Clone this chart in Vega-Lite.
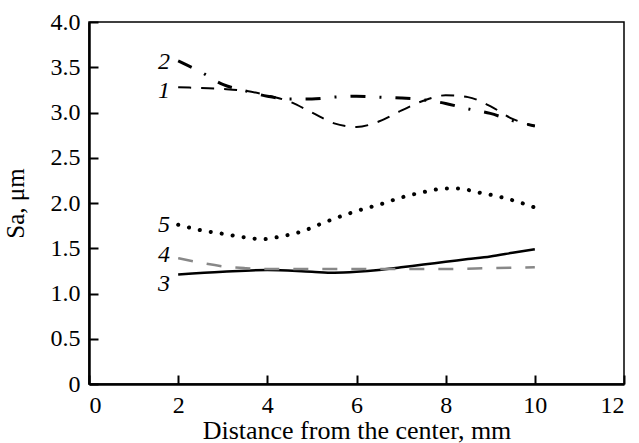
{
  "$schema": "https://vega.github.io/schema/vega-lite/v6.json",
  "width": 535,
  "height": 362,
  "autosize": {"type": "none"},
  "padding": {"left": 89, "top": 22, "right": 15, "bottom": 59},
  "background": "white",
  "config": {
    "view": {"stroke": "black", "strokeWidth": 1.5},
    "font": "Liberation Serif",
    "axis": {
      "labelFont": "Liberation Serif",
      "titleFont": "Liberation Serif",
      "labelFontSize": 24,
      "titleFontSize": 26,
      "labelColor": "black",
      "titleColor": "black",
      "titleFontWeight": "normal",
      "domainColor": "black",
      "domainWidth": 2.5,
      "tickColor": "black",
      "tickWidth": 2,
      "tickSize": -9,
      "labelPadding": 18,
      "grid": false
    }
  },
  "datasets": {
    "curves": [
      {"x": 2, "y": 3.28, "s": "1"}, {"x": 2.5, "y": 3.27, "s": "1"}, {"x": 3, "y": 3.26, "s": "1"}, {"x": 3.5, "y": 3.24, "s": "1"}, {"x": 4, "y": 3.19, "s": "1"}, {"x": 4.5, "y": 3.12, "s": "1"}, {"x": 5, "y": 3.0, "s": "1"}, {"x": 5.5, "y": 2.88, "s": "1"}, {"x": 6, "y": 2.84, "s": "1"}, {"x": 6.5, "y": 2.9, "s": "1"}, {"x": 7, "y": 3.02, "s": "1"}, {"x": 7.5, "y": 3.13, "s": "1"}, {"x": 8, "y": 3.19, "s": "1"}, {"x": 8.5, "y": 3.17, "s": "1"}, {"x": 9, "y": 3.07, "s": "1"}, {"x": 9.5, "y": 2.93, "s": "1"}, {"x": 10, "y": 2.85, "s": "1"},
      {"x": 2, "y": 3.57, "s": "2"}, {"x": 2.5, "y": 3.45, "s": "2"}, {"x": 3, "y": 3.31, "s": "2"}, {"x": 3.5, "y": 3.24, "s": "2"}, {"x": 4, "y": 3.18, "s": "2"}, {"x": 4.5, "y": 3.15, "s": "2"}, {"x": 5, "y": 3.15, "s": "2"}, {"x": 5.5, "y": 3.17, "s": "2"}, {"x": 6, "y": 3.18, "s": "2"}, {"x": 6.5, "y": 3.17, "s": "2"}, {"x": 7, "y": 3.16, "s": "2"}, {"x": 7.5, "y": 3.14, "s": "2"}, {"x": 8, "y": 3.1, "s": "2"}, {"x": 8.5, "y": 3.04, "s": "2"}, {"x": 9, "y": 2.99, "s": "2"}, {"x": 9.5, "y": 2.91, "s": "2"}, {"x": 10, "y": 2.85, "s": "2"},
      {"x": 2, "y": 1.21, "s": "3"}, {"x": 3, "y": 1.24, "s": "3"}, {"x": 4, "y": 1.26, "s": "3"}, {"x": 5, "y": 1.24, "s": "3"}, {"x": 5.5, "y": 1.23, "s": "3"}, {"x": 6, "y": 1.24, "s": "3"}, {"x": 6.5, "y": 1.26, "s": "3"}, {"x": 7, "y": 1.29, "s": "3"}, {"x": 7.5, "y": 1.32, "s": "3"}, {"x": 8, "y": 1.35, "s": "3"}, {"x": 8.5, "y": 1.38, "s": "3"}, {"x": 9, "y": 1.41, "s": "3"}, {"x": 9.5, "y": 1.45, "s": "3"}, {"x": 10, "y": 1.49, "s": "3"},
      {"x": 2, "y": 1.39, "s": "4"}, {"x": 2.5, "y": 1.34, "s": "4"}, {"x": 3, "y": 1.3, "s": "4"}, {"x": 3.5, "y": 1.28, "s": "4"}, {"x": 4, "y": 1.27, "s": "4"}, {"x": 5, "y": 1.27, "s": "4"}, {"x": 6, "y": 1.27, "s": "4"}, {"x": 7, "y": 1.27, "s": "4"}, {"x": 8, "y": 1.27, "s": "4"}, {"x": 9, "y": 1.28, "s": "4"}, {"x": 10, "y": 1.29, "s": "4"},
      {"x": 2, "y": 1.76, "s": "5"}, {"x": 2.5, "y": 1.7, "s": "5"}, {"x": 3, "y": 1.66, "s": "5"}, {"x": 3.5, "y": 1.62, "s": "5"}, {"x": 3.9, "y": 1.6, "s": "5"}, {"x": 4.3, "y": 1.63, "s": "5"}, {"x": 4.8, "y": 1.69, "s": "5"}, {"x": 5.25, "y": 1.78, "s": "5"}, {"x": 5.75, "y": 1.87, "s": "5"}, {"x": 6.2, "y": 1.94, "s": "5"}, {"x": 6.5, "y": 1.98, "s": "5"}, {"x": 7, "y": 2.06, "s": "5"}, {"x": 7.5, "y": 2.12, "s": "5"}, {"x": 8, "y": 2.16, "s": "5"}, {"x": 8.3, "y": 2.16, "s": "5"}, {"x": 8.7, "y": 2.12, "s": "5"}, {"x": 9.2, "y": 2.07, "s": "5"}, {"x": 9.7, "y": 2.0, "s": "5"}, {"x": 10, "y": 1.95, "s": "5"}
    ],
    "labels": [
      {"x": 1.68, "y": 3.56, "t": "2"},
      {"x": 1.68, "y": 3.24, "t": "1"},
      {"x": 1.68, "y": 1.76, "t": "5"},
      {"x": 1.68, "y": 1.42, "t": "4"},
      {"x": 1.68, "y": 1.11, "t": "3"}
    ]
  },
  "encoding": {
    "x": {
      "field": "x", "type": "quantitative",
      "scale": {"domain": [0, 12], "nice": false, "zero": false},
      "axis": {"values": [0, 2, 4, 6, 8, 10, 12], "title": "Distance from the center, mm", "titlePadding": 0}
    },
    "y": {
      "field": "y", "type": "quantitative",
      "scale": {"domain": [0, 4], "nice": false},
      "axis": {"values": [0, 0.5, 1, 1.5, 2, 2.5, 3, 3.5, 4], "labelExpr": "datum.value == 0 ? '0' : format(datum.value, '.1f')", "title": "Sa, μm", "titleFontSize": 25, "titlePadding": 22}
    }
  },
  "layer": [
    {
      "data": {"name": "curves"},
      "transform": [{"filter": "datum.s == '1'"}],
      "mark": {"type": "line", "interpolate": "monotone", "color": "black", "strokeWidth": 2, "strokeDash": [13, 10]}
    },
    {
      "data": {"name": "curves"},
      "transform": [{"filter": "datum.s == '2'"}],
      "mark": {"type": "line", "interpolate": "monotone", "color": "black", "strokeWidth": 3, "strokeDash": [15, 14, 2, 14]}
    },
    {
      "data": {"name": "curves"},
      "transform": [{"filter": "datum.s == '3'"}],
      "mark": {"type": "line", "interpolate": "monotone", "color": "black", "strokeWidth": 2.5}
    },
    {
      "data": {"name": "curves"},
      "transform": [{"filter": "datum.s == '4'"}],
      "mark": {"type": "line", "interpolate": "monotone", "color": "#888888", "strokeWidth": 2.5, "strokeDash": [15, 14]}
    },
    {
      "data": {"name": "curves"},
      "transform": [{"filter": "datum.s == '5'"}],
      "mark": {"type": "line", "interpolate": "monotone", "color": "black", "strokeWidth": 4, "strokeCap": "round", "strokeDash": [0.1, 11]}
    },
    {
      "data": {"name": "labels"},
      "mark": {"type": "text", "font": "Liberation Serif", "fontStyle": "italic", "fontSize": 24, "align": "center", "baseline": "middle", "color": "black"},
      "encoding": {"text": {"field": "t"}}
    }
  ]
}
